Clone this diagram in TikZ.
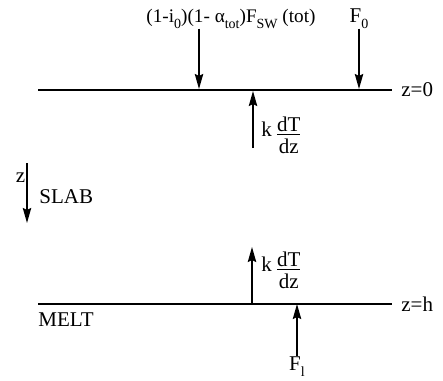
\documentclass[tikz,border=0pt]{standalone}
\usepackage{fontspec}
\setmainfont{Liberation Serif}
\usetikzlibrary{arrows.meta, positioning}
\newcommand{\lowsub}[1]{\raisebox{-3pt}{\fontsize{7}{8}\selectfont #1}}
\newcommand{\dTdz}{$\vcenter{\offinterlineskip
  \halign{\hfil##\hfil\cr dT\cr\noalign{\kern1.2pt\hrule height0.5pt\kern2pt}dz\cr}}$}
\newcommand{\kgrad}{\raisebox{2pt}{k}\ \dTdz}

\begin{document}
\begin{tikzpicture}[
  x=0.5pt, y=-0.5pt,
  font=\fontsize{10.5}{12}\selectfont,
  surface/.style={line width=1pt},
  flux/.style={line width=0.8pt, -{Stealth[length=7.5pt, width=4.2pt, inset=1pt]}},
  lbl/.style={inner sep=0pt},
]
\useasboundingbox (0,0) rectangle (443,380);

% ---- the two boundaries of the slab ---------------------------------------
\coordinate (top west) at (38,90);
\coordinate (top east) at (392,90);
\coordinate (bot west) at (38,304);
\coordinate (bot east) at (392,304);
\draw[surface] (top west) -- (top east);
\draw[surface] (bot west) -- (bot east);
\node[lbl, right=4.5pt of top east] (zzero) {z=0};
\node[lbl, right=4.5pt of bot east] (zh) {z=h};

% ---- fluxes at the upper surface ------------------------------------------
\node[lbl, anchor=base, font=\fontsize{9.6}{12}\selectfont] (swlabel) at (231,22)
  {(1-i\lowsub{0})(1- α\lowsub{tot})F\lowsub{SW} (tot)};
\node[lbl, anchor=base] (fzero) at (359,22) {F\lowsub{0}};
\coordinate (sw) at (199,89);
\draw[flux] (swlabel.south -| sw) -- (sw);
\draw[flux] (fzero.south) -- (fzero.south |- sw);

\coordinate (ktop tail) at (253,148);
\coordinate (ktop) at (253,91);
\draw[flux] (ktop tail) -- (ktop);
\node[lbl, anchor=west] (ktoplabel) at (261,135) {\kgrad};

% ---- the depth axis --------------------------------------------------------
\coordinate (zaxis tail) at (27,163);
\coordinate (zaxis head) at (27,223);
\draw[flux] (zaxis tail) -- (zaxis head);
\node[lbl] (zlabel) at (20.5,178) {z};
\node[lbl, anchor=west] (slab) at (39,197) {SLAB};

% ---- fluxes at the lower surface ------------------------------------------
\coordinate (kbot) at (252,304);
\coordinate (kbot head) at (252,247);
\draw[flux] (kbot) -- (kbot head);
\node[lbl, anchor=west] (kbotlabel) at (261,270) {\kgrad};

\node[lbl, below right=8pt and 0pt of bot west, anchor=west] (melt) {MELT};
\node[lbl, anchor=north] (flow) at (297,356) {F\lowsub{l}};
\draw[flux] (flow.north) -- (flow.north |- bot west);

\end{tikzpicture}
\end{document}
